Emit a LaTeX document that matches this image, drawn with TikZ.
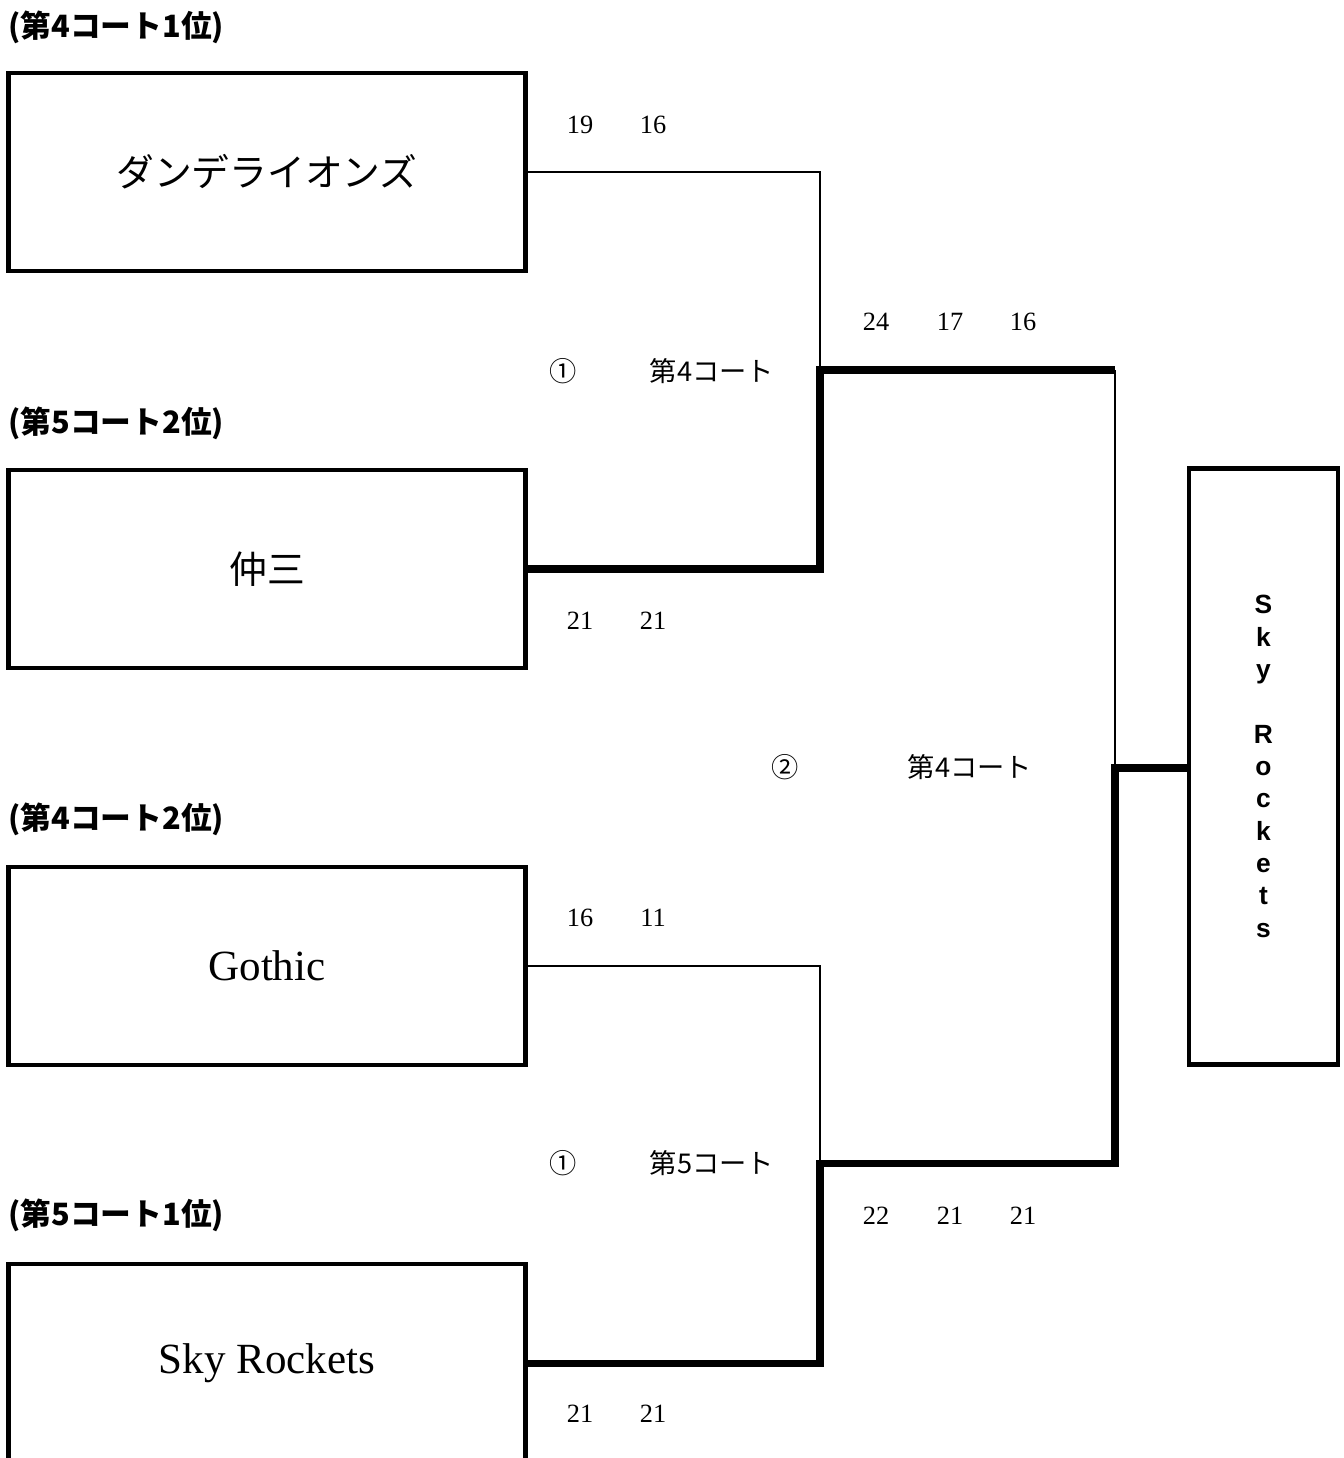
\documentclass[tikz,border=0pt]{standalone}
\usepackage{fontspec}
\setmainfont{Liberation Serif}
\setsansfont{Liberation Sans}
\newfontfamily\jp{Noto Sans CJK JP}

\tikzset{
  teambox/.style={rectangle, draw, line width=2.8pt, minimum width=10.36cm, minimum height=3.96cm, inner sep=0pt},
  seed/.style={anchor=west, inner sep=0pt, font=\jp\bfseries\fontsize{17.5}{20}\selectfont},
  score/.style={inner sep=0pt, font=\fontsize{15}{18}\selectfont},
  court/.style={inner sep=0pt, font=\jp\fontsize{15.5}{18}\selectfont},
  thinline/.style={line width=1.4pt},
  thickline/.style={line width=4pt},
}

\begin{document}
\begin{tikzpicture}[x=0.02cm, y=-0.02cm]
\useasboundingbox (0,0) rectangle (1344,1458);

% teams
\node[teambox, font=\jp\fontsize{21.5}{26}\selectfont] (t1) at (267,172) {ダンデライオンズ};
\node[teambox, font=\jp\fontsize{21.5}{26}\selectfont] (t2) at (267,569) {仲三};
\node[teambox, font=\fontsize{24.5}{28}\selectfont] (t3) at (267,966) {Gothic};
\node[teambox, draw=none, outer sep=0pt, font=\fontsize{24.5}{28}\selectfont] (t4) at (267,1363) {Sky Rockets};
\draw[line width=2.8pt] (t4.south west) |- (t4.north east) -- (t4.south east);

\node[seed] (s1) at (8,27) {(第4コート1位)};
\node[seed] (s2) at (8,423) {(第5コート2位)};
\node[seed] (s3) at (8,819) {(第4コート2位)};
\node[seed] (s4) at (8,1215) {(第5コート1位)};

% winner
\node[rectangle, draw, line width=2.8pt, minimum width=2.98cm, minimum height=11.94cm, align=center,
      font=\sffamily\bfseries\fontsize{15}{18.4}\selectfont] (win) at (1263.5,766.5)
      {S\\k\\y\\[18.4pt]R\\o\\c\\k\\e\\t\\s};

\coordinate (sf1) at (820,370);
\coordinate (sf2) at (820,1163);
\coordinate (fin) at (1115,768);

% bracket lines
\draw[thinline] (t1.east) -| (sf1);
\draw[thickline] (t2.east) -| (sf1) -- (sf1 -| fin);
\draw[thinline] (sf1 -| fin) -- (fin);
\draw[thinline] (t3.east) -| (sf2);
\draw[thickline] (t4.east) -| (sf2) -- (sf2 -| fin) -- (fin) -- (fin -| win.west);

% scores
\node[score] (a1) at (580,125) {19};
\node[score] (a2) at (653,125) {16};
\node[score] (b1) at (580,621) {21};
\node[score] (b2) at (653,621) {21};
\node[score] (c1) at (580,918) {16};
\node[score] (c2) at (653,918) {11};
\node[score] (d1) at (580,1414) {21};
\node[score] (d2) at (653,1414) {21};
\node[score] (e1) at (876,322) {24};
\node[score] (e2) at (950,322) {17};
\node[score] (e3) at (1023,322) {16};
\node[score] (f1) at (876,1216) {22};
\node[score] (f2) at (950,1216) {21};
\node[score] (f3) at (1023,1216) {21};

% courts
\node[court] (r1n) at (563,371) {①};
\node[court] (r1c) at (712,371) {第4コート};
\node[court] (r2n) at (563,1163) {①};
\node[court] (r2c) at (712,1163) {第5コート};
\node[court] (r3n) at (785,767) {②};
\node[court] (r3c) at (970,767) {第4コート};
\end{tikzpicture}
\end{document}
